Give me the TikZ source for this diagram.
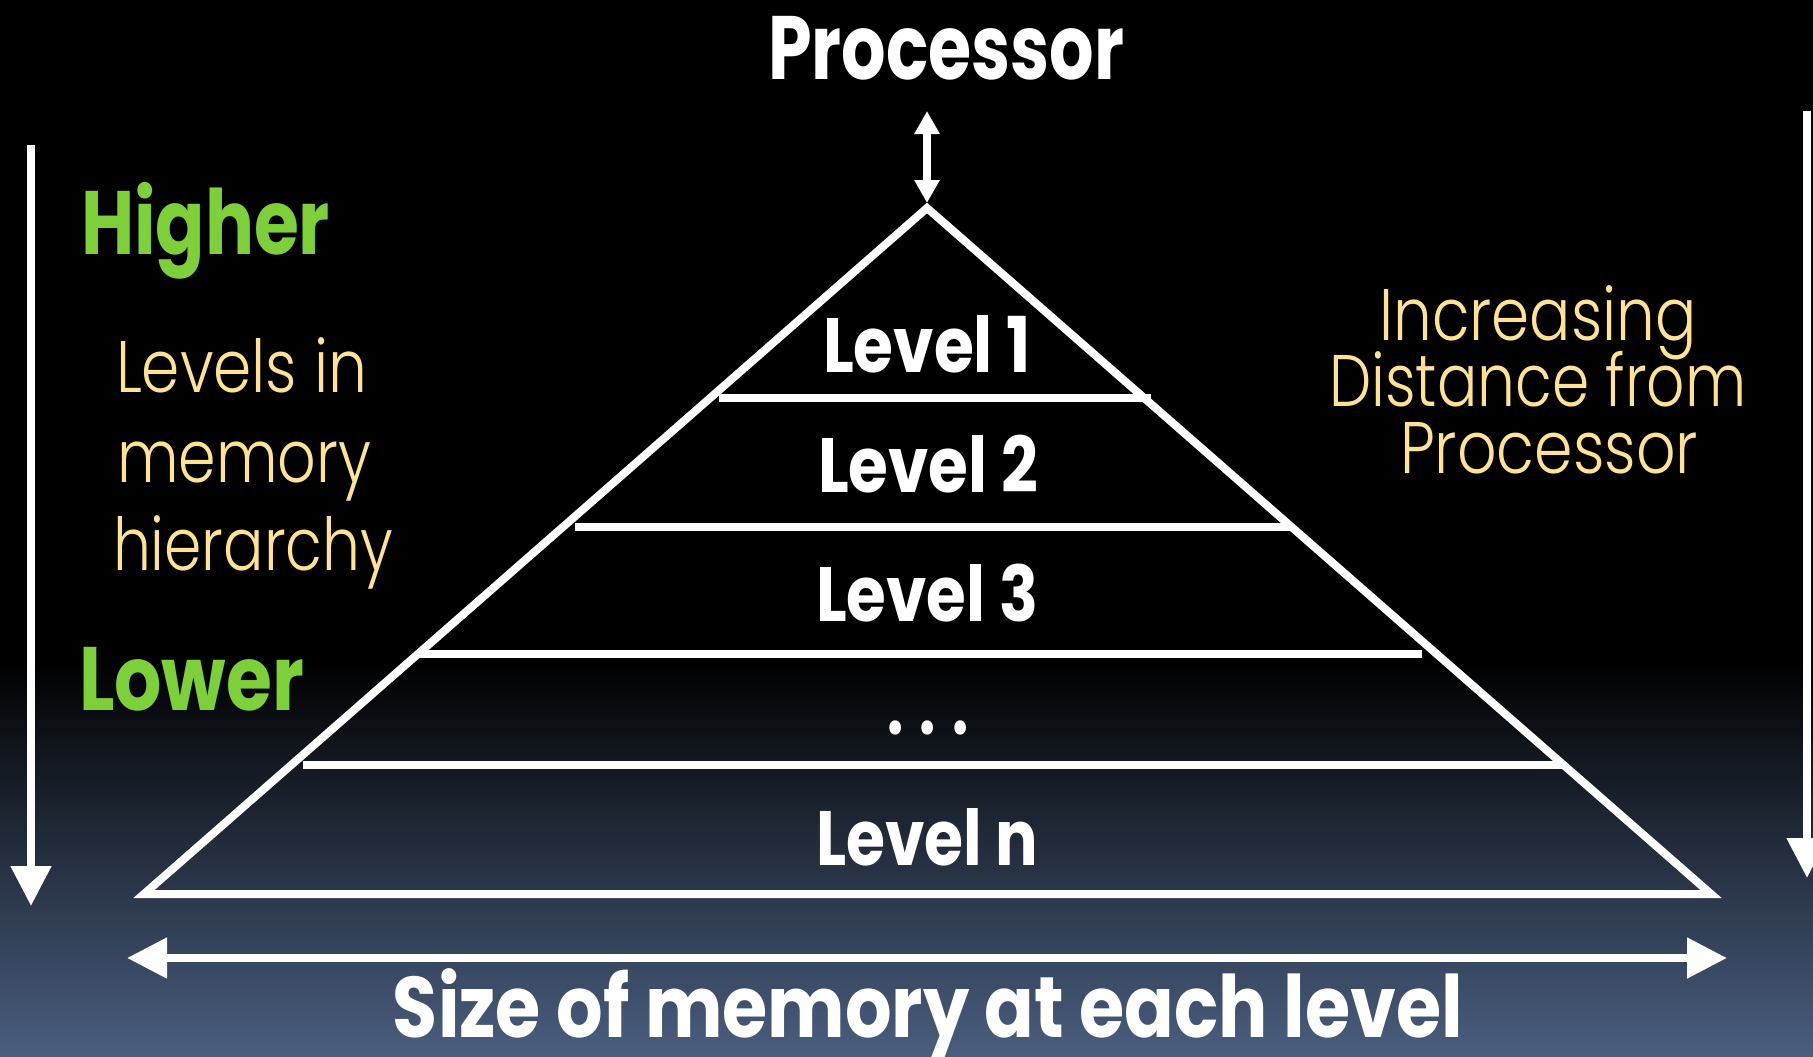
\documentclass[tikz,border=0pt]{standalone}
\usepackage{fontspec}
\setmainfont{Poppins}
\newfontfamily\lightfont{Poppins}[UprightFont=* Light]
\usetikzlibrary{arrows.meta}
\definecolor{cream}{RGB}{255,226,150}
\definecolor{hgreen}{RGB}{125,208,58}
\definecolor{slate}{RGB}{74,94,127}
\newcommand{\fitw}[2]{\resizebox{#1pt}{\height}{#2}}
\begin{document}
\begin{tikzpicture}[x=1pt,y=-1pt,
  txt/.style={inner sep=0pt, outer sep=0pt, anchor=base},
  boldw/.style={txt, text=white, font=\fontsize{77}{80}\selectfont\bfseries},
  bigw/.style={txt, text=white, font=\fontsize{90}{95}\selectfont\bfseries},
  greentxt/.style={txt, anchor=base west, text=hgreen, font=\fontsize{90}{95}\selectfont\bfseries},
  creamtxt/.style={txt, text=cream, font=\fontsize{73}{76}\selectfont\lightfont},
  pyr/.style={draw=white, line width=8pt, line join=miter},
  lvl/.style={draw=white, line width=8pt},
  bigarrow/.style={draw=white, line width=8pt, -{Triangle[length=40pt,width=39pt]}},
  dblarrow/.style={draw=white, line width=8pt, {Triangle[length=40pt,width=39pt]}-{Triangle[length=40pt,width=39pt]}},
  smallarrow/.style={draw=white, line width=8pt, {Triangle[length=23pt,width=24pt]}-{Triangle[length=23pt,width=24pt]}}
]
\useasboundingbox (0,0) rectangle (1813,1057);
\fill[black] (0,0) rectangle (1813,661);
\shade[top color=black, bottom color=slate] (0,660) rectangle (1813,1057);

% pyramid
\coordinate (apex) at (927,208);
\coordinate (bl) at (144,894);
\coordinate (br) at (1711,894);
\draw[pyr] (apex) -- (bl) -- (br) -- cycle;

% level separators
\coordinate (l1a) at (719,398);  \coordinate (l1b) at (1151,398);
\coordinate (l2a) at (575,527);  \coordinate (l2b) at (1292,527);
\coordinate (l3a) at (417,654);  \coordinate (l3b) at (1422,654);
\coordinate (l4a) at (303,765);  \coordinate (l4b) at (1565,765);
\draw[lvl] (l1a) -- (l1b);
\draw[lvl] (l2a) -- (l2b);
\draw[lvl] (l3a) -- (l3b);
\draw[lvl] (l4a) -- (l4b);

% level labels
\node[boldw] (lev1) at (927,372) {\fitw{208}{Level 1}};
\node[boldw] (lev2) at (928,492) {\fitw{220}{Level 2}};
\node[boldw] (lev3) at (927,621) {\fitw{222}{Level 3}};
\node[boldw] (dots) at (928,734) {\fitw{81}{. . .}};
\node[boldw] (levn) at (927,865) {\fitw{222}{Level n}};

% processor
\node[bigw] (proc) at (946,80) {\fitw{356}{Processor}};
\coordinate (ptop) at (927,111);
\coordinate (pbot) at (927,203);
\draw[smallarrow] (ptop) -- (pbot);

% left arrow and labels
\coordinate (lt) at (31,145);
\coordinate (lb) at (31,906);
\draw[bigarrow] (lt) -- (lb);
\node[greentxt] (higher) at (81,254) {\fitw{249}{Higher}};
\node[greentxt] (lower) at (79,710) {\fitw{225}{Lower}};
\node[creamtxt, anchor=base west] (lv1) at (116,392) {\fitw{251}{Levels in}};
\node[creamtxt, anchor=base west] (lv2) at (117,482) {\fitw{254}{memory}};
\node[creamtxt, anchor=base west] (lv3) at (113,570) {\fitw{280}{hierarchy}};

% right arrow and labels
\coordinate (rt) at (1807,111);
\coordinate (rb) at (1807,878);
\draw[bigarrow] (rt) -- (rb);
\node[creamtxt] (inc1) at (1538,340) {\fitw{317}{Increasing}};
\node[creamtxt] (inc2) at (1538,406) {\fitw{417}{Distance from}};
\node[creamtxt] (inc3) at (1549,473) {\fitw{298}{Processor}};

% size arrow
\coordinate (sl) at (127,958);
\coordinate (sr) at (1727,958);
\draw[dblarrow] (sl) -- (sr);
\node[txt, text=white, font=\fontsize{86}{90}\selectfont\bfseries] (size) at (928,1037) {\fitw{1070}{Size of memory at each level}};
\end{tikzpicture}
\end{document}
